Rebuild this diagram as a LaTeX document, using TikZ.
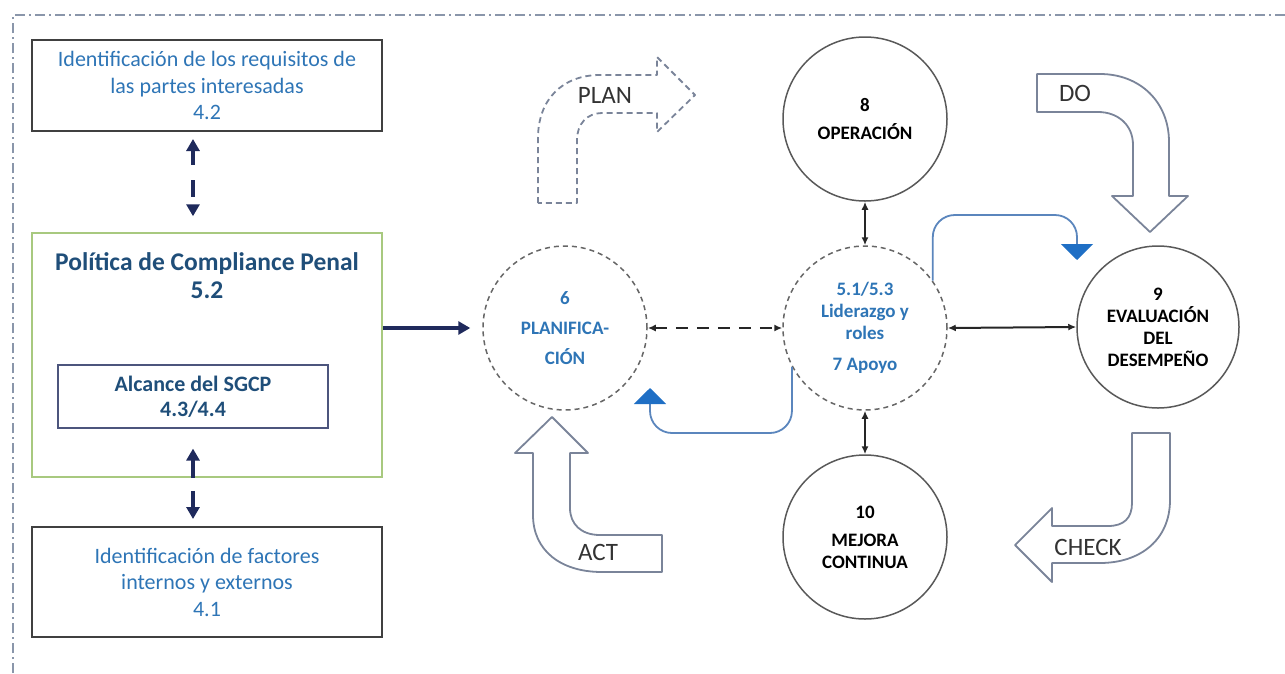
\documentclass[tikz,border=0pt]{standalone}
\usepackage{fontspec}
\setmainfont{Carlito}
\usetikzlibrary{arrows.meta}
\definecolor{txtblue}{HTML}{2E75B6}
\definecolor{darkblue}{HTML}{1F4E79}
\definecolor{navy}{HTML}{1F2A5C}
\definecolor{boxgreen}{HTML}{A8C97F}
\definecolor{linkblue}{HTML}{5B86BD}
\definecolor{tipblue}{HTML}{1F6FC5}
\definecolor{shapegray}{HTML}{7A8499}
\definecolor{framegray}{HTML}{8A96AA}
\begin{document}
\begin{tikzpicture}[x=1pt, y=-1pt,
  reqbox/.style = {draw=black!75, line width=2pt, minimum width=350pt, inner sep=0pt, align=center, text=txtblue, font=\fontsize{22}{26.5}\selectfont},
  polbox/.style = {draw=boxgreen, line width=1.5pt, minimum width=350pt, minimum height=244pt},
  scopebox/.style = {draw=navy!80, line width=1.2pt, minimum width=270pt, minimum height=63pt, align=center, text=darkblue, font=\bfseries\fontsize{22}{25}\selectfont},
  phase/.style = {draw=black!65, line width=1.5pt, circle, minimum size=164pt, inner sep=0pt, align=center, font=\bfseries\fontsize{19}{22}\selectfont},
  core/.style = {phase, draw=black!60, dash pattern=on 5pt off 4pt, text=txtblue},
  navylink/.style = {navy, line width=3.5pt, >={Triangle[width=13pt,length=12pt]}},
  blacklink/.style = {black!85, line width=2pt, >={Latex[width=7pt,length=8pt]}},
  bluelink/.style = {linkblue, line width=1.8pt, rounded corners=22pt, -{Triangle[width=32pt,length=16pt,fill=tipblue,color=tipblue]}},
  pdca/.style = {shapegray, line width=1.8pt, line join=round},
  pdcalabel/.style = {text=black!80, font=\fontsize{25}{25}\selectfont}
]
\useasboundingbox (0,0) rectangle (1285,673);
\draw[framegray, line width=1.5pt, dash pattern=on 10pt off 4pt on 2pt off 4pt] (13,673) -- (13,15) -- (1285,15);

% left column
\node[reqbox, minimum height=91pt] (req) at (207,85.5) {Identificación de los requisitos de\\las partes interesadas\\4.2};
\node[polbox] (pol) at (207,355) {};
\node[align=center, text=darkblue, font=\bfseries\fontsize{25.5}{28}\selectfont] (poltitle) at (207,276) {Política de Compliance Penal\\5.2};
\node[scopebox] (scope) at (193,396.5) {Alcance del SGCP\\4.3/4.4};
\node[reqbox, minimum height=110pt] (fact) at (207,582) {Identificación de factores\\internos y externos\\4.1};

\draw[navylink, <->, dash pattern=on 15pt off 15pt on 17pt off 10pt, shorten <=7pt, shorten >=16pt] (req.south -| scope) -- (pol.north -| scope);
\draw[navylink, <-, shorten <=20pt] (scope.south) -- (scope.south |- pol.south);
\draw[navylink, ->, shorten <=13pt, shorten >=7pt] (scope.south |- pol.south) -- (scope.south |- fact.north);

% circles
\node[core] (plan6) at (565,328) {6\\[8pt]PLANIFICA-\\[8pt]CIÓN};
\node[core] (lead) at (865,328) {5.1/5.3\\Liderazgo y\\roles\\[9pt]7 Apoyo};
\node[phase] (oper) at (865,119) {8\\[6pt]OPERACIÓN};
\node[phase, minimum size=162pt] (eval) at (1158,327) {9\\EVALUACIÓN\\DEL\\DESEMPEÑO};
\node[phase] (impr) at (865,537) {10\\[6pt]MEJORA\\CONTINUA};

\draw[navylink, ->, shorten >=12pt] (pol.east |- plan6) -- (plan6.west);
\draw[blacklink, <->, line width=2.5pt, dash pattern=on 12pt off 9pt] (plan6.east) -- (lead.west);
\draw[blacklink, <->] (oper.south) -- (lead.north);
\draw[blacklink, <->] (lead.east) -- (eval.west);
\draw[blacklink, <->] (lead.south) -- (impr.north);

\coordinate (toprail) at (0,215);
\coordinate (evaltip) at (1077,260);
\coordinate (botrail) at (0,433);
\coordinate (plantip) at (650,388);
\draw[bluelink] (lead.35) -- (lead.35 |- toprail) -| (evaltip);
\draw[bluelink] (lead.208) -- (lead.208 |- botrail) -| (plantip);

% PDCA arrows
\draw[pdca, dash pattern=on 6pt off 4pt] (538,203) -- (538,138) .. controls (538,100) and (562,75) .. (600,75) -- (657,75) -- (657,57) -- (695,95) -- (657,132) -- (657,113) -- (602,113) .. controls (587,113) and (577,124) .. (577,140) -- (577,203) -- cycle;
\node[pdcalabel] (planlbl) at (605,95) {PLAN};
\draw[pdca] (1037,74) -- (1100,74) .. controls (1140,74) and (1169,102) .. (1169,142) -- (1169,196) -- (1188,196) -- (1150,232) -- (1112,196) -- (1133,196) -- (1133,145) .. controls (1133,125) and (1118,112) .. (1098,112) -- (1037,112) -- cycle;
\node[pdcalabel] (dolbl) at (1075,93) {DO};
\draw[pdca] (1132,433) -- (1170,433) -- (1170,500) .. controls (1170,540) and (1140,563) .. (1100,563) -- (1052,563) -- (1052,582) -- (1015,545) -- (1052,508) -- (1052,526) -- (1108,526) .. controls (1124,526) and (1132,518) .. (1132,503) -- cycle;
\node[pdcalabel] (checklbl) at (1088,547) {CHECK};
\draw[pdca] (552,417) -- (588,453) -- (570,453) -- (570,508) .. controls (570,524) and (581,535) .. (600,535) -- (662,535) -- (662,572) -- (602,572) .. controls (560,572) and (533,550) .. (533,515) -- (533,453) -- (515,453) -- cycle;
\node[pdcalabel] (actlbl) at (598,552) {ACT};
\end{tikzpicture}
\end{document}
